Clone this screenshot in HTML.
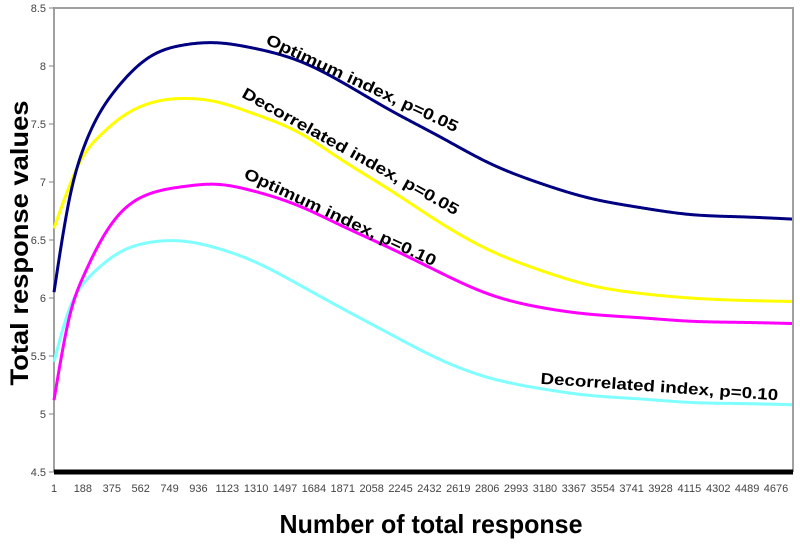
<!DOCTYPE html>
<html><head><meta charset="utf-8"><style>
html,body{margin:0;padding:0;background:#fff;}
svg{display:block;font-family:"Liberation Sans",sans-serif;}
</style></head><body>
<svg id="chart" width="800" height="545" viewBox="0 0 800 545">
  <g id="grid"></g>
  <g id="series"></g>
  <g id="labels"></g>
  <text x="0" y="0" transform="translate(28,243) rotate(-90)" text-anchor="middle" font-size="25" font-weight="bold" textLength="285" lengthAdjust="spacingAndGlyphs">Total response values</text>
  <text x="431" y="533" text-anchor="middle" font-size="26" font-weight="bold" textLength="303" lengthAdjust="spacingAndGlyphs">Number of total response</text>
</svg>
<script>
const categories = [1,188,375,562,749,936,1123,1310,1497,1684,1871,2058,2245,2432,2619,2806,2993,3180,3367,3554,3741,3928,4115,4302,4489,4676];
const yTicks = [4.5,5,5.5,6,6.5,7,7.5,8,8.5];
const sampleX = [1,105,189,299,409,623,836,1056,1270,1594,1853,2177,2500,2824,3148,3472,3795,4119,4443,4786];
const optimum05 = [6.05,6.88,7.28,7.6,7.81,8.08,8.18,8.2,8.16,8.04,7.87,7.62,7.39,7.16,6.99,6.86,6.78,6.72,6.70,6.68];
const decor05 = [6.6,6.98,7.22,7.4,7.53,7.68,7.72,7.69,7.6,7.42,7.20,6.93,6.65,6.41,6.24,6.11,6.04,6.0,5.98,5.97];
const optimum10 = [5.12,5.86,6.18,6.48,6.7,6.9,6.96,6.98,6.93,6.79,6.63,6.43,6.22,6.03,5.92,5.86,5.83,5.80,5.79,5.78];
const decor10 = [5.45,5.92,6.12,6.27,6.38,6.48,6.49,6.43,6.33,6.11,5.92,5.69,5.47,5.31,5.22,5.16,5.13,5.10,5.09,5.08];

const NS="http://www.w3.org/2000/svg";
const L=54,R=793,T=8,B=472;
function xs(v){return 54+(v-1)/4675*722;}
function ys(v){return B-(v-4.5)/4*(B-T);}
function mk(tag,attrs,parent){const e=document.createElementNS(NS,tag);for(const k in attrs)e.setAttribute(k,attrs[k]);parent.appendChild(e);return e;}
const grid=document.getElementById('grid');
const frame=mk('path',{d:`M${L},${B} L${L},${T} L${R},${T} L${R},${B}`,fill:'none',stroke:'#a0a0a0','stroke-width':2},grid);


yTicks.forEach(t=>{
  const y=ys(t);
  const tk=mk('line',{x1:L-5,x2:L,y1:y,y2:y,stroke:'#808080','stroke-width':1},grid);
  
  
  const tx=mk('text',{x:L-8,y:y+4,'text-anchor':'end','font-size':11,fill:'#444'},grid);
  tx.textContent=String(t);
  
  
});
const xa=mk('line',{x1:L,x2:R,y1:B,y2:B,stroke:'#000','stroke-width':5},grid);


categories.forEach(c=>{
  const tx=mk('text',{x:xs(c),y:492,'text-anchor':'middle','font-size':11,fill:'#444'},grid);
  tx.textContent=String(c);
  
  
});
function spline(xv,yv){
  const n=xv.length,h=[],al=[],l=[1],mu=[0],z=[0],c=new Array(n).fill(0),b=[],d=[];
  for(let i=0;i<n-1;i++)h.push(xv[i+1]-xv[i]);
  for(let i=1;i<n-1;i++)al[i]=3/h[i]*(yv[i+1]-yv[i])-3/h[i-1]*(yv[i]-yv[i-1]);
  for(let i=1;i<n-1;i++){l[i]=2*(xv[i+1]-xv[i-1])-h[i-1]*mu[i-1];mu[i]=h[i]/l[i];z[i]=(al[i]-h[i-1]*z[i-1])/l[i];}
  l[n-1]=1;z[n-1]=0;
  for(let j=n-2;j>=0;j--){c[j]=z[j]-mu[j]*c[j+1];b[j]=(yv[j+1]-yv[j])/h[j]-h[j]*(c[j+1]+2*c[j])/3;d[j]=(c[j+1]-c[j])/(3*h[j]);}
  return function(x){let i=0;while(i<n-2&&x>xv[i+1])i++;const t=x-xv[i];return yv[i]+b[i]*t+c[i]*t*t+d[i]*t*t*t;};
}
const ser=document.getElementById('series');
[[decor10,'#80ffff','series-decorrelated-p010'],[optimum10,'#ff00ff','series-optimum-p010'],[decor05,'#ffff00','series-decorrelated-p005'],[optimum05,'#000080','series-optimum-p005']].forEach(([vals,col,name])=>{
  const px=sampleX.map(xs),py=vals.map(ys);
  const f=spline(px,py);
  let d='';
  for(let x=px[0];x<=px[px.length-1];x+=1){d+=(d?'L':'M')+x.toFixed(1)+','+f(x).toFixed(2);}
  const p=mk('path',{d:d,fill:'none',stroke:col,'stroke-width':3,'stroke-linejoin':'round'},ser);
  
  
});
const lab=document.getElementById('labels');
function label(txt,cx,cy,rot,len,name){
  const t=mk('text',{x:0,y:0,transform:`translate(${cx},${cy}) rotate(${rot})`,'text-anchor':'middle','font-size':16,'font-weight':'bold',fill:'#000',textLength:len,lengthAdjust:'spacingAndGlyphs'},lab);
  t.textContent=txt;
  
  
}
label('Optimum index, p=0.05',360,88,25,210,'label-optimum-p005');
label('Decorrelated index, p=0.05',348,156,29,245,'label-decorrelated-p005');
label('Optimum index, p=0.10',338,222,25,210,'label-optimum-p010');
label('Decorrelated index, p=0.10',659,392,4,238,'label-decorrelated-p010');
</script>
</body></html>
